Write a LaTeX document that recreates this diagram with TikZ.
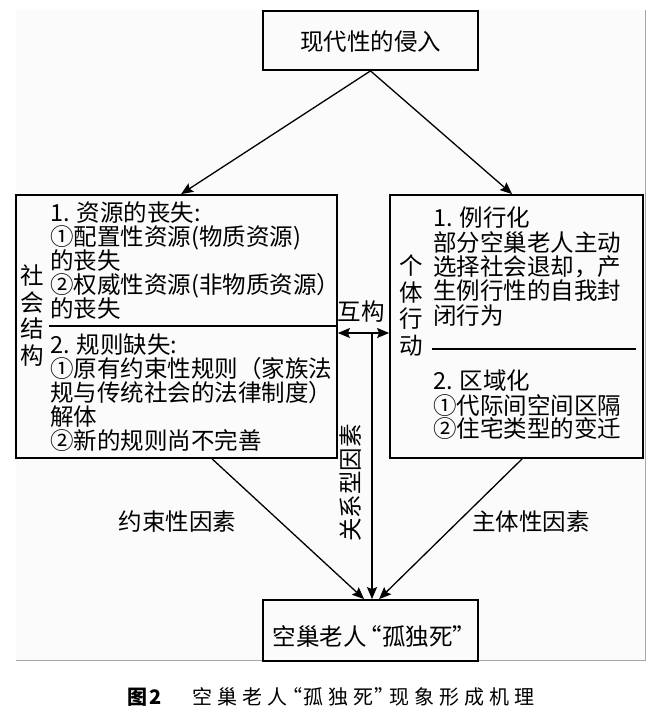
\documentclass[tikz,border=0pt]{standalone}
\usepackage{fontspec}
\setmainfont{Noto Sans CJK SC}
\usetikzlibrary{arrows.meta}
\newcommand\myfs{\fontsize{23.5}{25}\selectfont}
\newcommand\capfs{\fontsize{20}{22}\selectfont}
\begin{document}
\begin{tikzpicture}[x=1pt,y=-1pt,
  box/.style={draw,line width=1.8pt,inner sep=0pt},
  txt/.style={anchor=base west,inner sep=0pt,font=\myfs},
  lab/.style={inner sep=0pt,font=\myfs},
  vlab/.style={inner sep=0pt,font=\myfs,align=center},
  arr/.style={line width=1.3pt,-{Stealth[length=12pt,width=10pt,inset=2pt]}},
  darr/.style={line width=1.3pt,{Stealth[length=12pt,width=10pt,inset=2pt]}-{Stealth[length=12pt,width=10pt,inset=2pt]}},
  divline/.style={line width=1.4pt}
]
\useasboundingbox (0,0) rectangle (668,714);
% panel
\fill[black!1.5] (16,10) rectangle (645,660);
\draw[black!35,line width=1pt] (16,660) -- (645,660) -- (645,10);

% boxes
\node[box,minimum width=215pt,minimum height=59pt,font=\myfs,text height=23.7pt,text depth=2.8pt] (top) at (370.5,40.5) {现代性的侵入};
\node[box,minimum width=321pt,minimum height=263pt] (L) at (176.5,326.5) {};
\node[box,minimum width=253pt,minimum height=263pt] (R) at (516.5,326.5) {};
\node[box,minimum width=215pt,minimum height=61pt,font=\myfs,text height=33.7pt,text depth=2.8pt] (B) at (370.5,630.5) {空巢老人\kern-8pt“孤独死”\kern-8pt};

% left box contents
\node[vlab,text depth=0pt] (soc) at (32,314.5) {社\\[1.5pt]会\\[1.5pt]结\\[1.5pt]构};
\node[txt] (l1) at (50,221) {1. 资源的丧失:};
\node[txt] (l2) at (50,245) {①配置性资源(物质资源)};
\node[txt] (l3) at (50,269) {的丧失};
\node[txt] (l4) at (50,293) {②权威性资源(非物质资源）};
\node[txt] (l5) at (50,317) {的丧失};
\draw[divline] (49,326) -- (337,326);
\node[txt] (l6) at (50,353) {2. 规则缺失:};
\node[txt] (l7) at (50,377) {①原有约束性规则（家族法};
\node[txt] (l8) at (50,401) {规与传统社会的法律制度）};
\node[txt] (l9) at (50,425) {解体};
\node[txt] (l10) at (50,449) {②新的规则尚不完善};

% right box contents
\node[vlab] (ind) at (411,305.5) {个\\[1.5pt]体\\[1.5pt]行\\[1.5pt]动};
\node[txt] (r1) at (433,226) {1. 例行化};
\node[txt] (r2) at (433,251) {部分空巢老人主动};
\node[txt] (r3) at (433,275) {选择社会退却，产};
\node[txt] (r4) at (433,299) {生例行性的自我封};
\node[txt] (r5) at (433,324) {闭行为};
\draw[divline] (432,349) -- (636,349);
\node[txt] (r6) at (433,389) {2. 区域化};
\node[txt] (r7) at (433,414) {①代际间空间区隔};
\node[txt] (r8) at (433,437) {②住宅类型的变迁};

% connectors
\draw[arr] (top.south) -- ([xshift=166pt]L.north west);
\draw[arr] (top.south) -- ([xshift=123pt]R.north west);
\coordinate (m) at (372,333);
\draw[darr] (L.east |- m) -- (R.west |- m);
\draw[arr] (m) -- (B.north -| m);
\draw[arr] ([xshift=197pt]L.south west) -- ([xshift=102pt]B.north west);
\draw[arr] ([xshift=133pt]R.south west) -- ([xshift=117pt]B.north west);

% labels
\node[lab] (hg) at (361,312) {互构};
\node[lab,rotate=90] (gx) at (351,483) {关系型因素};
\node[lab] (ys) at (177.5,522) {约束性因素};
\node[lab,anchor=west] (zt) at (472,522) {主体性因素};

% caption
\node[anchor=base west,inner sep=0pt,font=\capfs] (cap) at (127,704.6)
  {{\bfseries 图\kern2pt 2}\hspace{31pt}空\kern5pt 巢\kern5pt 老\kern5pt 人\kern-5pt “\kern1pt 孤\kern5pt 独\kern5pt 死\kern1pt ”\kern-5pt 现\kern5pt 象\kern5pt 形\kern5pt 成\kern5pt 机\kern5pt 理};
\end{tikzpicture}
\end{document}
